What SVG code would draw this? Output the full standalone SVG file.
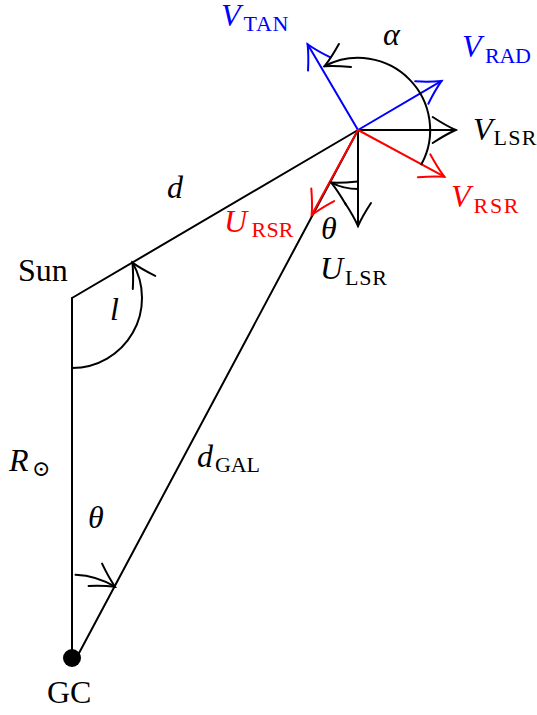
<svg xmlns="http://www.w3.org/2000/svg" width="537" height="715" viewBox="0 0 537 715">
<style>
.ln{fill:none;stroke-width:2;stroke-linecap:round}
.k{stroke:#000}.b{stroke:#0000ff}.r{stroke:#ff0000}
.t{font-family:"Liberation Serif","DejaVu Serif",serif;font-size:32px;fill:#000}
.i{font-style:italic}
.s{font-family:"Liberation Serif","DejaVu Serif",serif;font-size:22px;fill:#000}
.tb{fill:#0000ff}.tr{fill:#ff0000}
</style>
<defs>
<marker id="ak" markerUnits="userSpaceOnUse" orient="auto" refX="0" refY="0" markerWidth="30" markerHeight="30" overflow="visible"><path d="M-23,-13 Q-10,-4.5 0,0 Q-10,4.5 -23,13" fill="none" stroke="#000" stroke-width="2" stroke-linecap="round"/></marker>
<marker id="ab" markerUnits="userSpaceOnUse" orient="auto" refX="0" refY="0" markerWidth="30" markerHeight="30" overflow="visible"><path d="M-23,-13 Q-10,-4.5 0,0 Q-10,4.5 -23,13" fill="none" stroke="#0000ff" stroke-width="2" stroke-linecap="round"/></marker>
<marker id="ar" markerUnits="userSpaceOnUse" orient="auto" refX="0" refY="0" markerWidth="30" markerHeight="30" overflow="visible"><path d="M-23,-13 Q-10,-4.5 0,0 Q-10,4.5 -23,13" fill="none" stroke="#ff0000" stroke-width="2" stroke-linecap="round"/></marker>
</defs>
<g id="connectors">
<path class="ln k" d="M72 298 V658"/>
<path class="ln k" d="M72 298 L358 130"/>
<path class="ln k" d="M76.4 658 L358 130"/>
<path class="ln k" d="M72 368 A70 70 0 0 0 132.4 262.6" marker-end="url(#ak)"/>
<path class="ln k" d="M75.5 574.7 A83.5 83.5 0 0 1 115 586.7" marker-end="url(#ak)"/>
</g>
<g id="sun">
<text class="t" x="18" y="281">Sun</text>
</g>
<g id="gc">
<circle cx="72" cy="658" r="9" fill="#000"/>
<text class="t" x="47" y="703">GC</text>
</g>
<g id="star-vectors">
<path class="ln k" d="M358 130 H455.7" marker-end="url(#ak)"/>
<path class="ln k" d="M358 130 V226" marker-end="url(#ak)"/>
<path class="ln b" d="M358 130 L441.6 80.9" marker-end="url(#ab)"/>
<path class="ln b" d="M358 130 L307.6 44.2" marker-end="url(#ab)"/>
<path class="ln r" d="M358 130 L444.3 176.7" marker-end="url(#ar)"/>
<path class="ln r" d="M358 130 L311.7 215" marker-end="url(#ar)"/>
<path class="ln k" d="M421.4 164.3 A72 72 0 0 0 324.6 66.2" marker-end="url(#ak)"/>
<path class="ln k" d="M358 189 A59 59 0 0 1 331.2 182.6" marker-end="url(#ak)"/>
</g>
<g id="labels">
<text class="t i" x="167" y="198">d</text>
<text class="t i" x="110" y="320">l</text>
<text class="t i" x="9" y="471">R</text>
<text class="s" x="32" y="476" font-family="DejaVu Sans, sans-serif" font-size="20">⊙</text>
<text class="t i" x="197" y="467">d</text>
<text class="s" x="215" y="472" textLength="45" lengthAdjust="spacing">GAL</text>
<text class="t i" x="88" y="528">θ</text>
<text class="t i" x="321" y="239">θ</text>
<text class="t i" x="320" y="278.5">U</text>
<text class="s" x="345" y="285" textLength="42" lengthAdjust="spacing">LSR</text>
<text class="t i tr" x="224" y="232">U</text>
<text class="s tr" x="251.5" y="236.5" textLength="42" lengthAdjust="spacing">RSR</text>
<text class="t i" x="383" y="45">α</text>
<text class="t i tb" x="221" y="26">V</text>
<text class="s tb" x="243.5" y="30.5" textLength="45" lengthAdjust="spacing">TAN</text>
<text class="t i tb" x="462" y="57">V</text>
<text class="s tb" x="485" y="63" textLength="46" lengthAdjust="spacing">RAD</text>
<text class="t i" x="473" y="140">V</text>
<text class="s" x="493.5" y="145" textLength="43" lengthAdjust="spacing">LSR</text>
<text class="t i tr" x="451" y="207">V</text>
<text class="s tr" x="473.5" y="213" textLength="45" lengthAdjust="spacing">RSR</text>
</g>
</svg>
